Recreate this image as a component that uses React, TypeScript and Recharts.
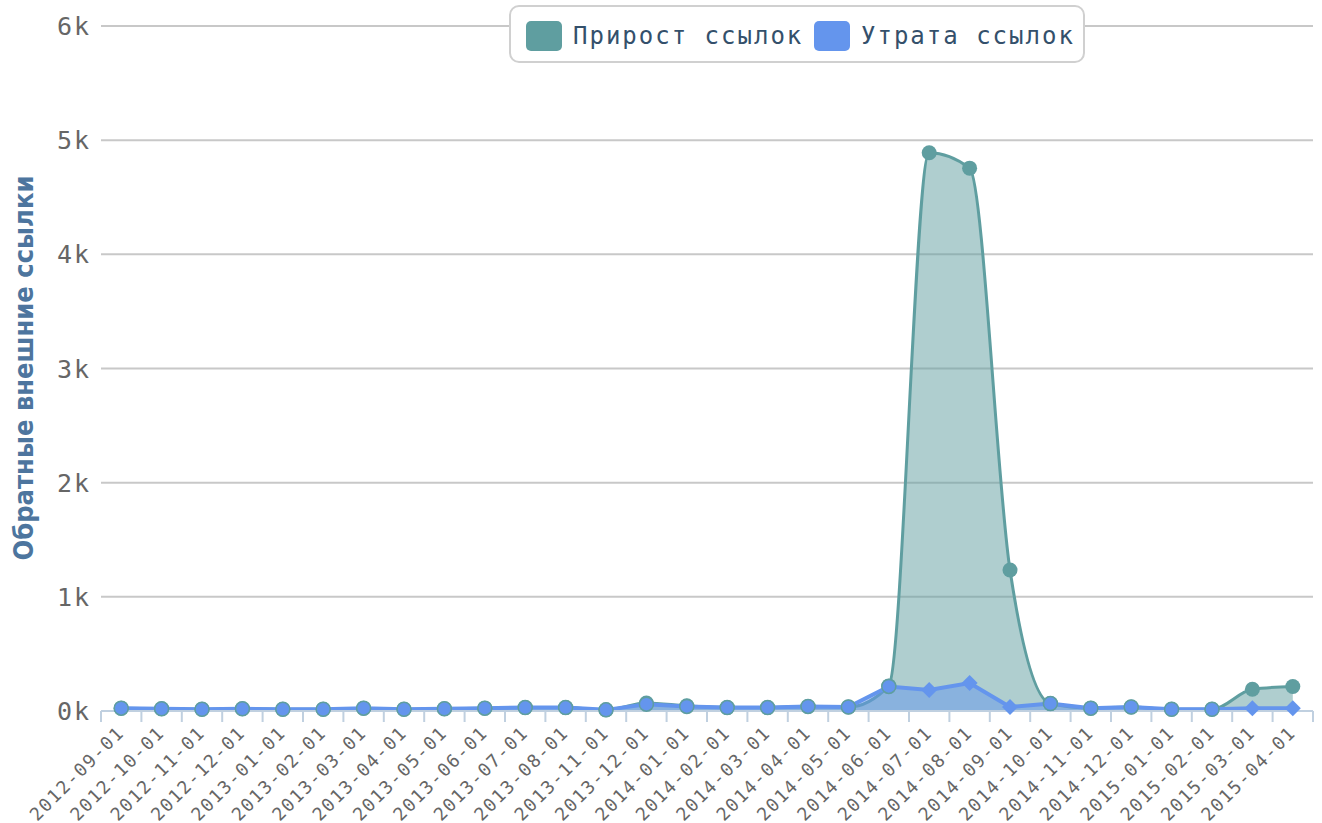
import React from 'react';
import { ComposedChart, Area, XAxis, YAxis, CartesianGrid, Legend } from 'recharts';

const dates = [
  '2012-09-01', '2012-10-01', '2012-11-01', '2012-12-01', '2013-01-01', '2013-02-01',
  '2013-03-01', '2013-04-01', '2013-05-01', '2013-06-01', '2013-07-01', '2013-08-01',
  '2013-11-01', '2013-12-01', '2014-01-01', '2014-02-01', '2014-03-01', '2014-04-01',
  '2014-05-01', '2014-06-01', '2014-07-01', '2014-08-01', '2014-09-01', '2014-10-01',
  '2014-11-01', '2014-12-01', '2015-01-01', '2015-02-01', '2015-03-01', '2015-04-01',
];
const gainValues = [25, 20, 15, 20, 15, 15, 25, 15, 20, 25, 30, 30, 10, 70, 45, 30, 30, 40, 35, 220, 4890, 4755, 1235, 65, 25, 35, 15, 15, 190, 215];
const lossValues = [25, 20, 15, 20, 15, 15, 25, 15, 20, 25, 30, 30, 10, 60, 40, 30, 30, 40, 35, 215, 185, 245, 35, 65, 25, 35, 15, 15, 25, 25];
const yTicks = [0, 1000, 2000, 3000, 4000, 5000, 6000];
const gainName = 'Прирост ссылок';
const lossName = 'Утрата ссылок';
const yTitle = 'Обратные внешние ссылки';

const data = dates.map((d, i) => ({ date: d, gain: gainValues[i], loss: lossValues[i] }));

const GREEN = '#5F9EA0';
const BLUE = '#6495ED';
const MONO = '"DejaVu Sans Mono", monospace';
const HALF_BAND = 20.2;

const GainDot = (props: any) => {
  const { cx, cy, index } = props;
  if (cx == null || cy == null) return <g key={`g${index}`} />;
  return <circle key={`g${index}`} cx={cx} cy={cy} r={7.5} fill={GREEN} />;
};

const LossDot = (props: any) => {
  const { cx, cy, index, payload } = props;
  if (cx == null || cy == null) return <g key={`l${index}`} />;
  const same = Math.abs(payload.gain - payload.loss) < 12;
  if (same) {
    return <circle key={`l${index}`} cx={cx} cy={cy} r={7} fill={BLUE} stroke={GREEN} strokeWidth={1.5} />;
  }
  const s = 8;
  return (
    <path
      key={`l${index}`}
      d={`M${cx},${cy - s} L${cx + s},${cy} L${cx},${cy + s} L${cx - s},${cy} Z`}
      fill={BLUE}
    />
  );
};

const XTick = (props: any) => {
  const { x, y, payload, index } = props;
  const off = HALF_BAND;
  const last = index === dates.length - 1;
  const tx = x + 4;
  const ty = y + 23;
  return (
    <g>
      <line x1={x - off} y1={y} x2={x - off} y2={y + 11} stroke="#C0D0E0" strokeWidth={2} />
      {last && <line x1={x + off} y1={y} x2={x + off} y2={y + 11} stroke="#C0D0E0" strokeWidth={2} />}
      <text
        x={tx}
        y={ty}
        transform={`rotate(-45, ${tx}, ${ty})`}
        textAnchor="end"
        fill="#666666"
        fontSize={18}
        fontFamily={MONO}
        letterSpacing={1.6}
      >
        {payload.value}
      </text>
    </g>
  );
};

const YTitle = () => (
  <text
    x={33}
    y={368}
    transform="rotate(-90, 33, 368)"
    textAnchor="middle"
    fill="#4d759e"
    fontSize={26}
    fontWeight="bold"
    fontFamily='"DejaVu Sans Condensed", "DejaVu Sans", sans-serif'
    textLength={385}
    lengthAdjust="spacingAndGlyphs"
  >
    {yTitle}
  </text>
);

const LegendBox = () => {
  const item = (color: string, label: string, w: number) => (
    <div style={{ display: 'flex', alignItems: 'center' }}>
      <div style={{ width: 36, height: 30, borderRadius: 5, background: color, marginRight: 11 }} />
      <span
        style={{
          fontFamily: MONO,
          fontSize: 24,
          color: '#34506b',
          letterSpacing: 2,
          width: w,
          whiteSpace: 'nowrap',
          display: 'inline-block',
        }}
      >
        {label}
      </span>
    </div>
  );
  return (
    <div
      style={{
        position: 'absolute',
        left: 509,
        top: 5,
        width: 576,
        height: 58,
        boxSizing: 'border-box',
        border: '2px solid #d0d0d0',
        borderRadius: 10,
        background: '#ffffff',
        display: 'flex',
        alignItems: 'center',
        paddingLeft: 15,
        paddingTop: 3,
      }}
    >
      {item(GREEN, gainName, 241)}
      {item(BLUE, lossName, 220)}
    </div>
  );
};

const YTick = (props: any) => {
  const { y, payload } = props;
  return (
    <text x={91} y={y} dy="0.36em" textAnchor="end" fill="#666666" fontSize={25} fontFamily={MONO} letterSpacing={2}>
      {`${payload.value / 1000}k`}
    </text>
  );
};

export default function App() {
  return (
    <div style={{ position: 'absolute', left: 0, top: 0, width: 1322, height: 823, background: '#fff' }}>
      <ComposedChart width={1322} height={823} data={data} margin={{ top: 26, right: 9, left: 0, bottom: 0 }}>
        <CartesianGrid horizontal={true} vertical={false} stroke="#c8c8c8" strokeWidth={2} />
        <XAxis
          dataKey="date"
          interval={0}
          height={112}
          tickSize={0}
          tickMargin={0}
          tickLine={false}
          padding={{ left: HALF_BAND, right: HALF_BAND }}
          axisLine={{ stroke: '#C0D0E0', strokeWidth: 2 }}
          tick={<XTick />}
        />
        <YAxis
          domain={[0, 6000]}
          ticks={yTicks}
          width={101}
          tickSize={0}
          tickMargin={13}
          axisLine={false}
          tickLine={false}
          tick={<YTick />}
          label={{ content: () => <YTitle /> }}
        />
        <Legend content={() => <LegendBox />} wrapperStyle={{ position: 'absolute', left: 0, top: 0, width: 0, height: 0 }} />
        <Area
          type="monotone"
          dataKey="gain"
          name={gainName}
          stroke={GREEN}
          strokeWidth={3}
          fill={GREEN}
          fillOpacity={0.5}
          dot={<GainDot />}
          activeDot={false}
          isAnimationActive={false}
        />
        <Area
          type="linear"
          dataKey="loss"
          name={lossName}
          stroke={BLUE}
          strokeWidth={4}
          fill={BLUE}
          fillOpacity={0.5}
          dot={<LossDot />}
          activeDot={false}
          isAnimationActive={false}
        />
      </ComposedChart>
    </div>
  );
}
